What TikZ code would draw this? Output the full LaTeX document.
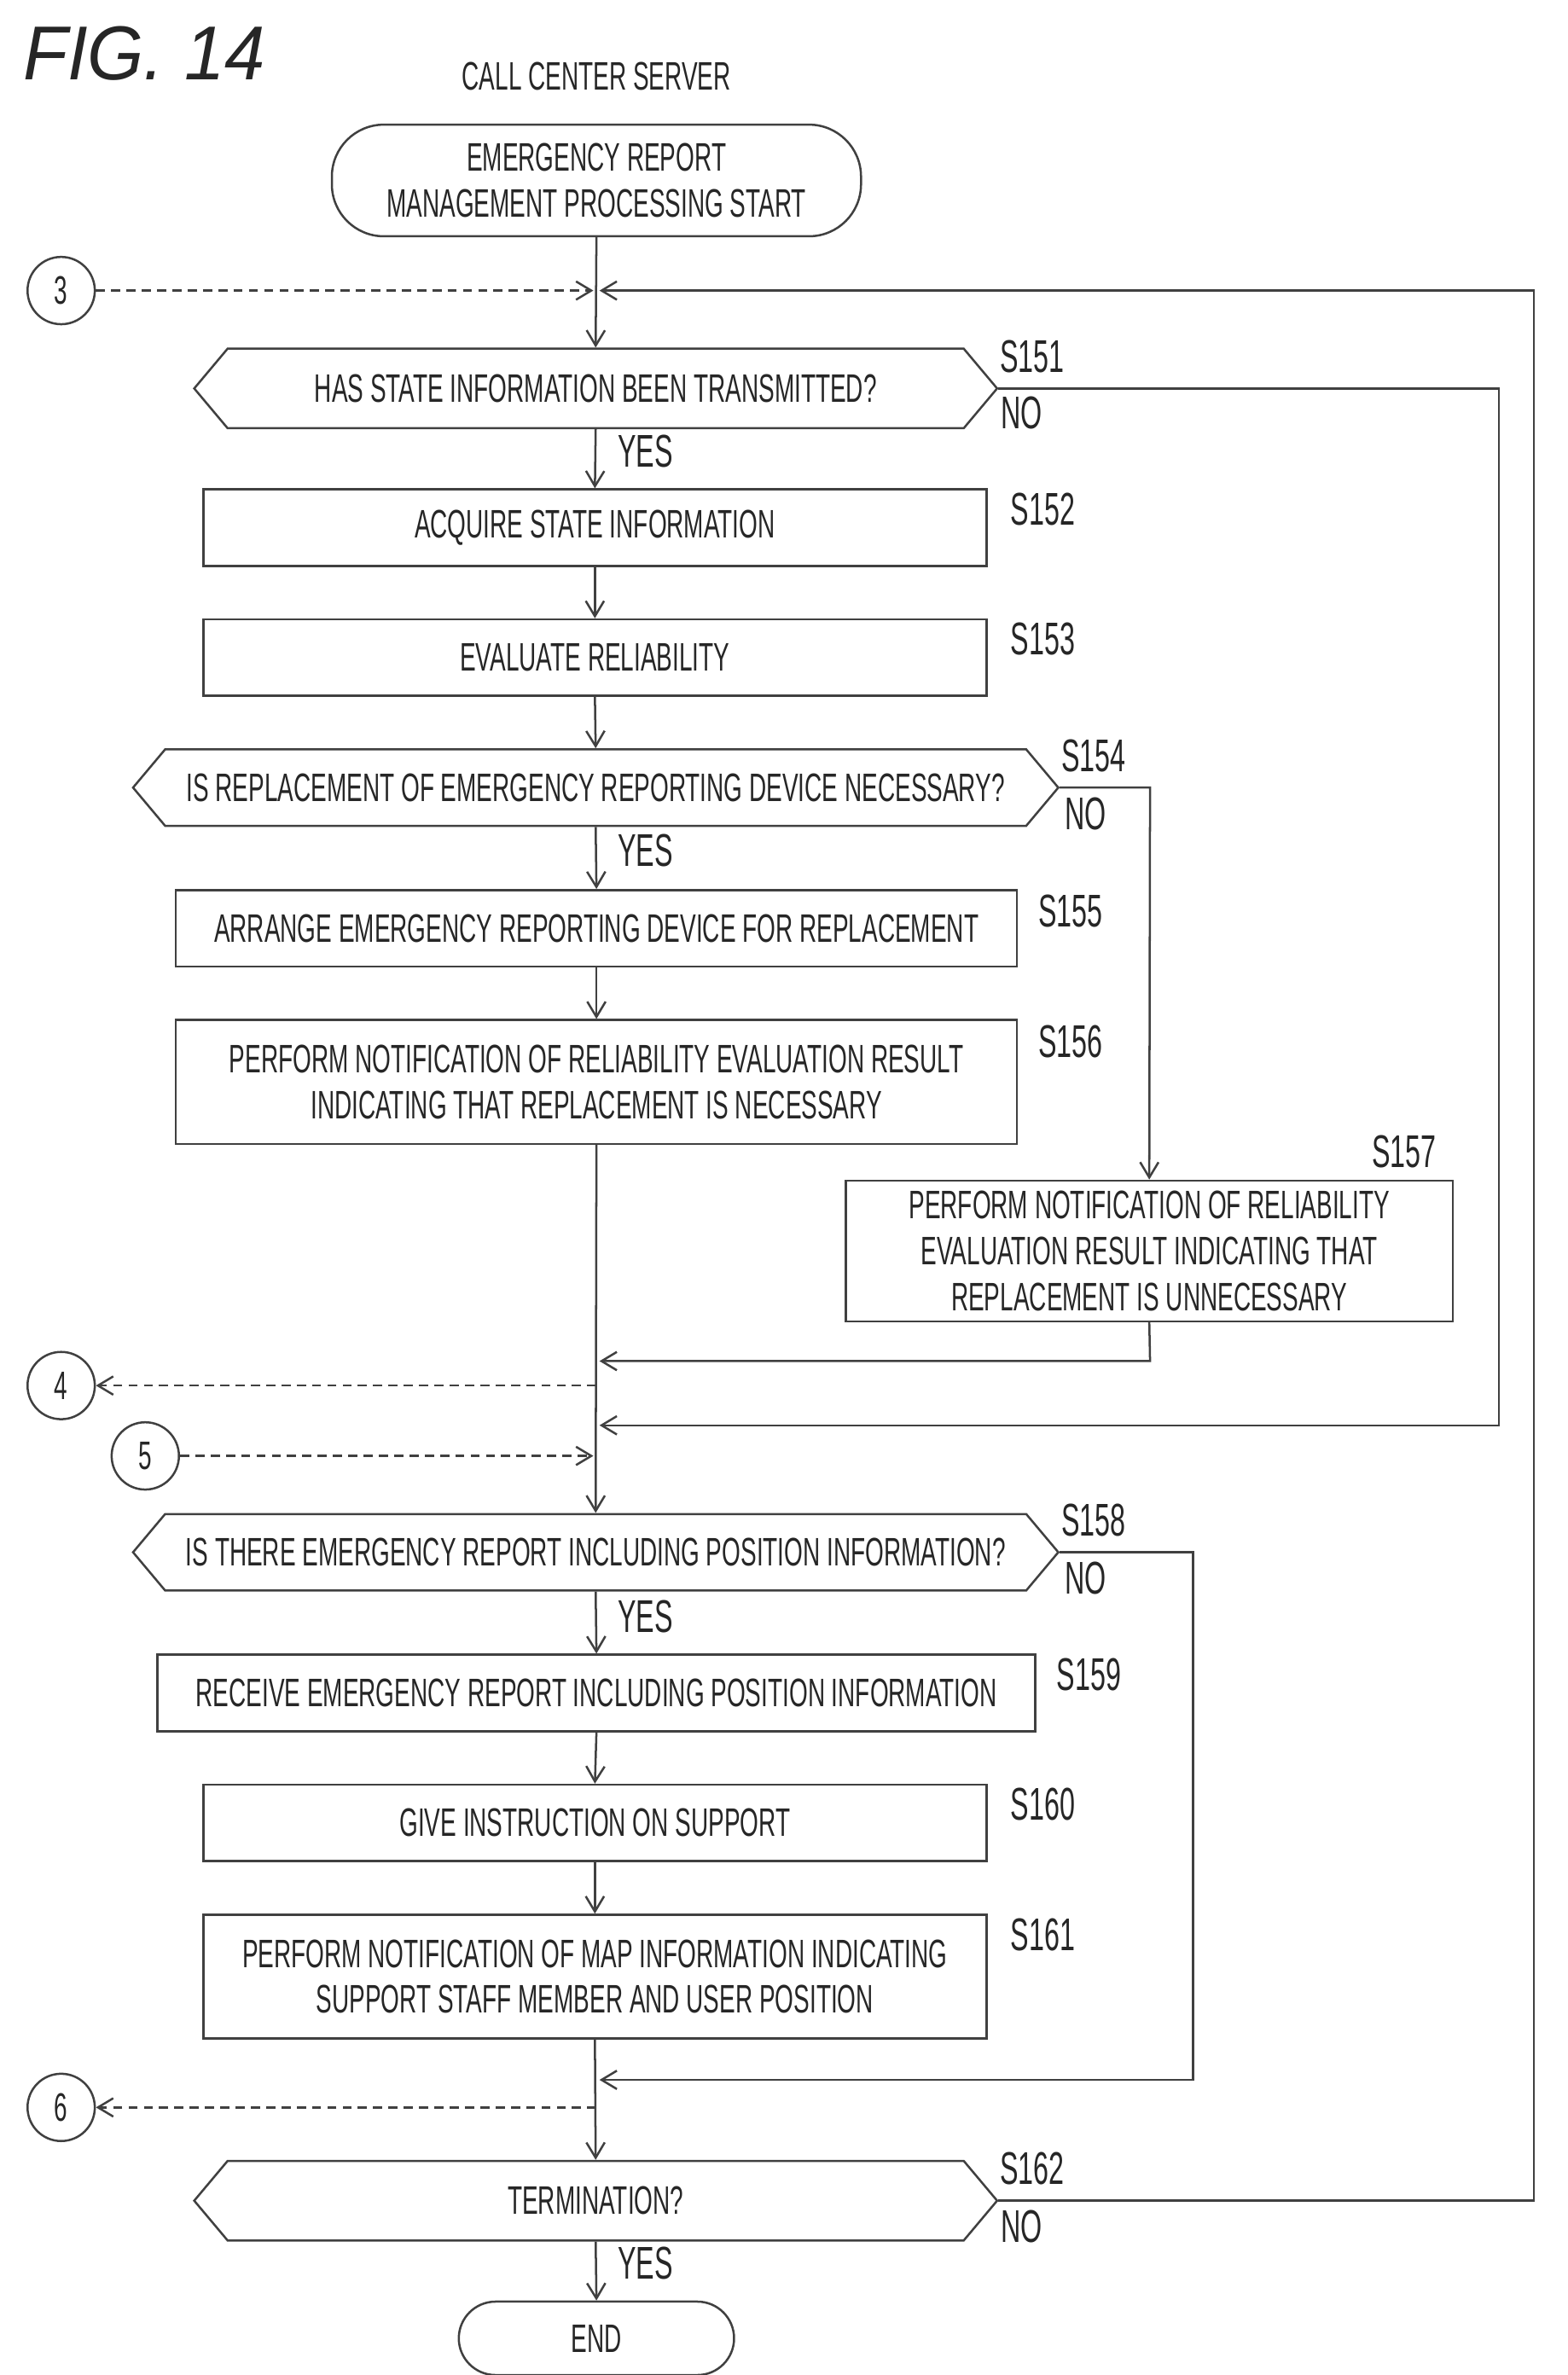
\documentclass[tikz,border=0pt]{standalone}
\usepackage{fontspec}
\setmainfont{Liberation Sans}[FakeStretch=0.6]
\newfontfamily\figfont{Liberation Sans}[FakeStretch=0.95]
\usetikzlibrary{arrows.meta,shapes.symbols,shapes.geometric}
\begin{document}
\begin{tikzpicture}[x=0.5pt,y=-0.5pt,
  every node/.style={font=\fontsize{13pt}{15pt}\selectfont, text=black!85},
  ln/.style={draw=black!75, line width=0.7pt},
  box/.style={ln, rectangle, inner sep=1pt, align=center},
  dec/.style={ln, signal, signal to=west and east, signal pointer angle=100, inner sep=1pt},
  term/.style={ln, rectangle, rounded corners=17pt, align=center},
  circ/.style={ln, circle, minimum size=22pt, inner sep=0pt},
  lab/.style={font=\fontsize{15pt}{17pt}\selectfont},
  arr/.style={ln, -{Straight Barb[length=5pt,width=6pt]}},
  dar/.style={arr, dashed, dash pattern=on 3pt off 2pt}]
\useasboundingbox (0,0) rectangle (1025,1553);
\node[anchor=west, font=\figfont\itshape\fontsize{25pt}{27pt}\selectfont] (fig) at (8,35) {FIG. 14};
\node (ccs) at (390,50) {CALL CENTER SERVER};
\node[term, minimum width=173pt, minimum height=36.5pt] (start) at (390,118) {EMERGENCY REPORT\\MANAGEMENT PROCESSING START};
\node[dec, minimum width=262.5pt, minimum height=26pt] (d151) at (389.5,254) {HAS STATE INFORMATION BEEN TRANSMITTED?};
\node[box, minimum width=256pt, minimum height=25pt] (s152) at (389,345) {ACQUIRE STATE INFORMATION};
\node[box, minimum width=256pt, minimum height=25pt] (s153) at (389,430) {EVALUATE RELIABILITY};
\node[dec, minimum width=302.5pt, minimum height=25pt] (d154) at (389.5,515) {IS REPLACEMENT OF EMERGENCY REPORTING DEVICE NECESSARY?};
\node[box, minimum width=275pt, minimum height=25pt] (s155) at (390,607) {ARRANGE EMERGENCY REPORTING DEVICE FOR REPLACEMENT};
\node[box, minimum width=275pt, minimum height=40.5pt] (s156) at (390,707.5) {PERFORM NOTIFICATION OF RELIABILITY EVALUATION RESULT\\INDICATING THAT REPLACEMENT IS NECESSARY};
\node[box, minimum width=198.5pt, minimum height=46pt] (s157) at (751.5,818) {PERFORM NOTIFICATION OF RELIABILITY\\EVALUATION RESULT INDICATING THAT\\REPLACEMENT IS UNNECESSARY};
\node[dec, minimum width=302.5pt, minimum height=25pt] (d158) at (389.5,1015) {IS THERE EMERGENCY REPORT INCLUDING POSITION INFORMATION?};
\node[box, minimum width=287pt, minimum height=25pt] (s159) at (390,1107) {RECEIVE EMERGENCY REPORT INCLUDING POSITION INFORMATION};
\node[box, minimum width=256pt, minimum height=25pt] (s160) at (389,1192) {GIVE INSTRUCTION ON SUPPORT};
\node[box, minimum width=256pt, minimum height=40.5pt] (s161) at (389,1292.5) {PERFORM NOTIFICATION OF MAP INFORMATION INDICATING\\SUPPORT STAFF MEMBER AND USER POSITION};
\node[dec, minimum width=262.5pt, minimum height=26pt] (d162) at (389.5,1439) {TERMINATION?};
\node[term, minimum width=90pt, minimum height=24pt, rounded corners=12pt] (end) at (390,1529) {END};
\node[circ] (c3) at (40,190) {3};
\node[circ] (c4) at (40,906) {4};
\node[circ] (c5) at (95,952) {5};
\node[circ] (c6) at (40,1378) {6};
% step labels
\foreach \n/\x/\y in {151/675/233,152/682/333,153/682/418,154/715/494,155/700/596,156/700/681,157/918/753,158/715/994,159/712/1095,160/682/1180,161/682/1265,162/675/1418}
  \node[lab] (l\n) at (\x,\y) {S\n};
\foreach \n/\x/\y in {151/668/270,154/710/532,158/710/1032,162/668/1456}
  \node[lab] (n\n) at (\x,\y) {NO};
\foreach \n/\y in {151/295,154/556,158/1057,162/1480}
  \node[lab] (y\n) at (422,\y) {YES};
% coordinates
\coordinate (m1) at (390,190);
\coordinate (m4) at (390,906);
\coordinate (m890) at (390,890);
\coordinate (m932) at (390,932);
\coordinate (m5) at (390,952);
\coordinate (m1360) at (390,1360);
\coordinate (m6) at (390,1378);
% main flow
\draw[arr] (start.south) -- (d151.north);
\draw[arr] (d151.south) -- (s152.north);
\draw[arr] (s152.south) -- (s153.north);
\draw[arr] (s153.south) -- (d154.north);
\draw[arr] (d154.south) -- (s155.north);
\draw[arr] (s155.south) -- (s156.north);
\draw[arr] (s156.south) -- (d158.north);
\draw[arr] (d158.south) -- (s159.north);
\draw[arr] (s159.south) -- (s160.north);
\draw[arr] (s160.south) -- (s161.north);
\draw[arr] (s161.south) -- (d162.north);
\draw[arr] (d162.south) -- (end.north);
% NO branches
\draw[arr] (d151.east) -- (980,254) -- (980,932) -- ([xshift=1pt]m932);
\draw[arr] (d154.east) -- (752,515) -- (s157.north);
\draw[arr] (s157.south) -- (752,890) -- ([xshift=1pt]m890);
\draw[arr] (d158.east) -- (780,1015) -- (780,1360) -- ([xshift=1pt]m1360);
\draw[arr] (d162.east) -- (1003,1439) -- (1003,190) -- ([xshift=1pt]m1);
% connectors
\draw[dar] (c3.east) -- ([xshift=-1pt]m1);
\draw[dar] (m4) -- (c4.east);
\draw[dar] (c5.east) -- ([xshift=-1pt]m5);
\draw[dar] (m6) -- (c6.east);
\end{tikzpicture}
\end{document}
